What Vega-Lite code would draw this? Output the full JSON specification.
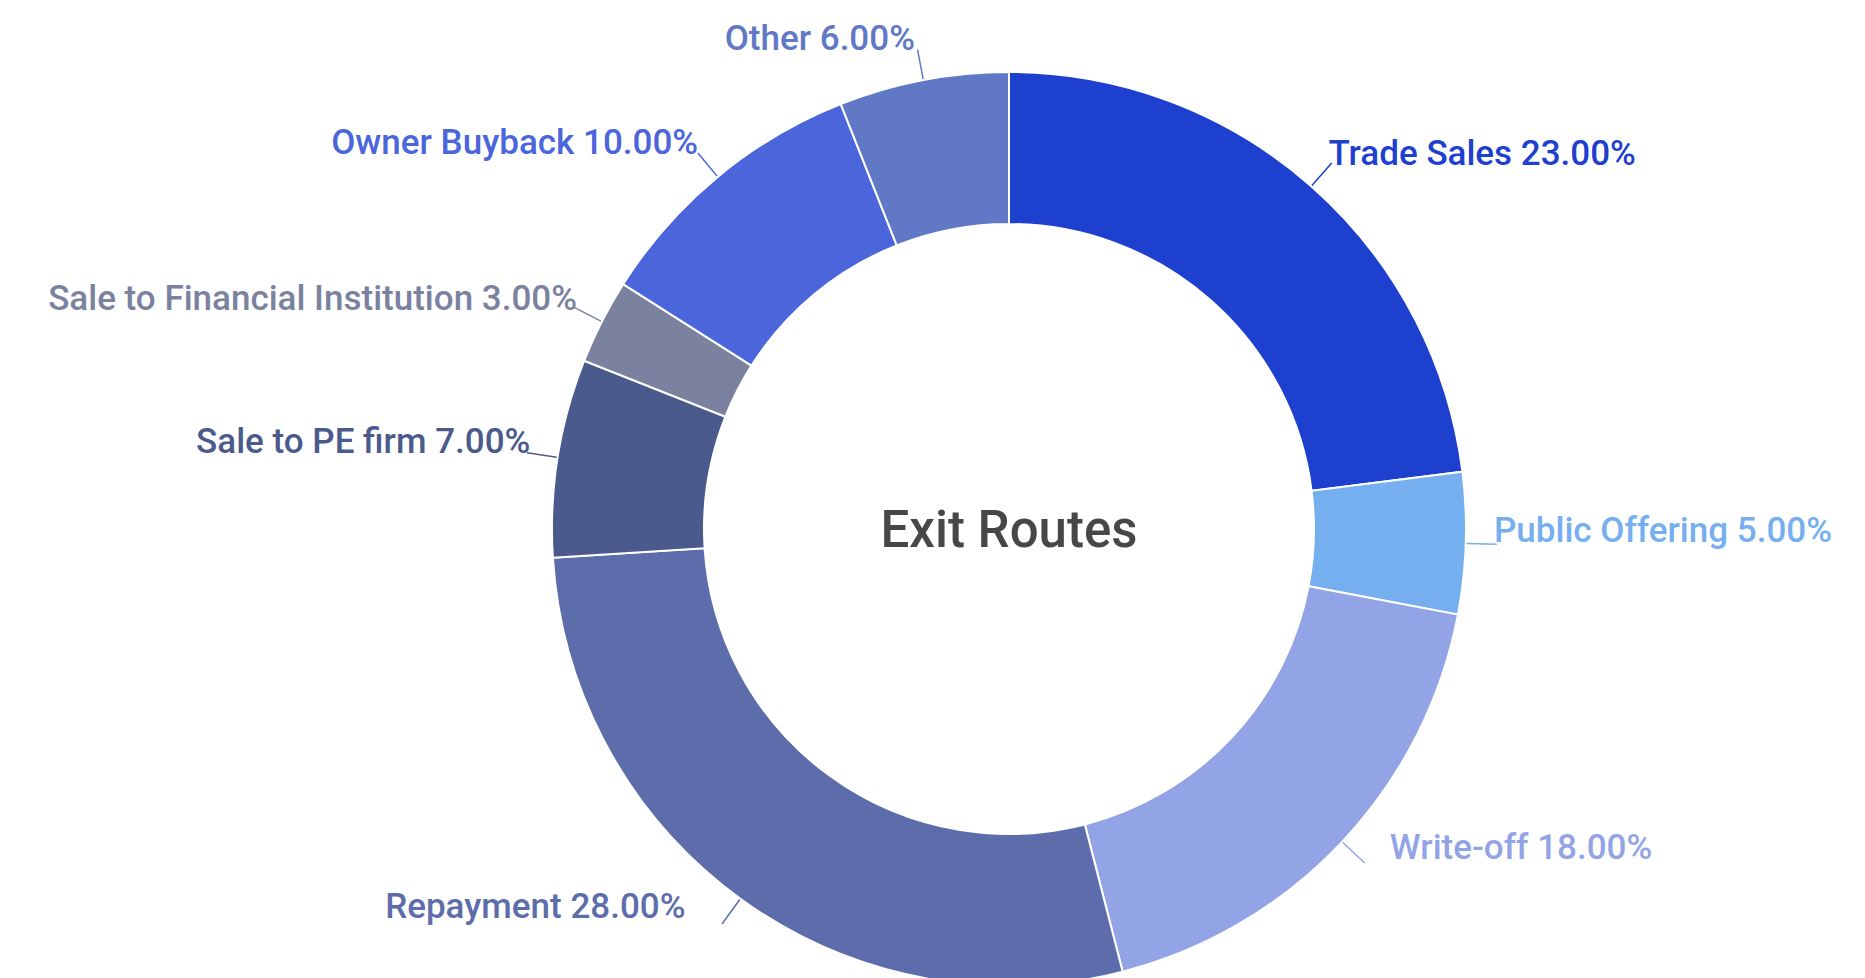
{
  "$schema": "https://vega.github.io/schema/vega-lite/v6.json",
  "width": 1712,
  "height": 898,
  "padding": {"left": 153, "top": 80, "right": 0, "bottom": 0},
  "autosize": {"type": "none"},
  "background": "white",
  "config": {"view": {"stroke": null}, "font": "Roboto"},
  "datasets": {
    "routes": [
      {"rank": 1, "route": "Trade Sales", "share": 23, "label": "Trade Sales 23.00%"},
      {"rank": 2, "route": "Public Offering", "share": 5, "label": "Public Offering 5.00%"},
      {"rank": 3, "route": "Write-off", "share": 18, "label": "Write-off 18.00%"},
      {"rank": 4, "route": "Repayment", "share": 28, "label": "Repayment 28.00%"},
      {"rank": 5, "route": "Sale to PE firm", "share": 7, "label": "Sale to PE firm 7.00%"},
      {"rank": 6, "route": "Sale to Financial Institution", "share": 3, "label": "Sale to Financial Institution 3.00%"},
      {"rank": 7, "route": "Owner Buyback", "share": 10, "label": "Owner Buyback 10.00%"},
      {"rank": 8, "route": "Other", "share": 6, "label": "Other 6.00%"}
    ]
  },
  "layer": [
    {
      "data": {"name": "routes"},
      "mark": {"type": "arc", "innerRadius": 305, "outerRadius": 457, "stroke": "#ffffff", "strokeWidth": 2},
      "encoding": {
        "theta": {"field": "share", "type": "quantitative", "stack": true},
        "order": {"field": "rank", "type": "quantitative"},
        "color": {
          "field": "route", "type": "nominal", "legend": null,
          "scale": {
            "domain": ["Trade Sales", "Public Offering", "Write-off", "Repayment", "Sale to PE firm", "Sale to Financial Institution", "Owner Buyback", "Other"],
            "range": ["#1e40cf", "#75aff0", "#93a4e6", "#5d6dab", "#4b5a8c", "#7a829f", "#4b66db", "#6078c5"]
          }
        }
      }
    },
    {
      "data": {"name": "routes"},
      "mark": {"type": "arc", "innerRadius": 458, "outerRadius": 488, "padAngle": 3, "fillOpacity": 0, "strokeWidth": 1.5},
      "encoding": {
        "theta": {"field": "share", "type": "quantitative", "stack": true},
        "order": {"field": "rank", "type": "quantitative"},
        "stroke": {
          "field": "route", "type": "nominal", "legend": null,
          "scale": {
            "domain": ["Trade Sales", "Public Offering", "Write-off", "Repayment", "Sale to PE firm", "Sale to Financial Institution", "Owner Buyback", "Other"],
            "range": ["#1e40cf", "#75aff0", "#93a4e6", "#5d6dab", "#4b5a8c", "#7a829f", "#4b66db", "#6078c5"]
          }
        }
      }
    },
    {
      "data": {"name": "routes"},
      "mark": {
        "type": "text", "radius": 495, "fontSize": 35, "fontWeight": 500, "baseline": "middle", "dy": 3,
        "align": {"expr": "(datum.route == 'Trade Sales' || datum.route == 'Public Offering' || datum.route == 'Write-off') ? 'left' : 'right'"},
        "thetaOffset": {"expr": "datum.route == 'Trade Sales' ? -0.021 : datum.route == 'Public Offering' ? -0.033 : datum.route == 'Write-off' ? -0.061 : datum.route == 'Repayment' ? 0.084 : datum.route == 'Sale to PE firm' ? 0.028 : datum.route == 'Sale to Financial Institution' ? 0.024 : datum.route == 'Owner Buyback' ? 0.017 : 0"},
        "radiusOffset": {"expr": "datum.route == 'Other' ? 7 : datum.route == 'Public Offering' ? -10 : datum.route == 'Sale to PE firm' ? -8 : datum.route == 'Sale to Financial Institution' ? -4 : datum.route == 'Owner Buyback' ? 3 : 0"}
      },
      "encoding": {
        "theta": {"field": "share", "type": "quantitative", "stack": true},
        "order": {"field": "rank", "type": "quantitative"},
        "text": {"field": "label", "type": "nominal"},
        "color": {
          "field": "route", "type": "nominal", "legend": null,
          "scale": {
            "domain": ["Trade Sales", "Public Offering", "Write-off", "Repayment", "Sale to PE firm", "Sale to Financial Institution", "Owner Buyback", "Other"],
            "range": ["#1e40cf", "#75aff0", "#93a4e6", "#5d6dab", "#4b5a8c", "#7a829f", "#4b66db", "#6078c5"]
          }
        }
      }
    },
    {
      "data": {"values": [{"title": "Exit Routes"}]},
      "mark": {"type": "text", "fontSize": 51, "fontWeight": 500, "color": "#474747", "baseline": "middle", "align": "center", "dy": 3},
      "encoding": {"text": {"field": "title", "type": "nominal"}}
    }
  ]
}
